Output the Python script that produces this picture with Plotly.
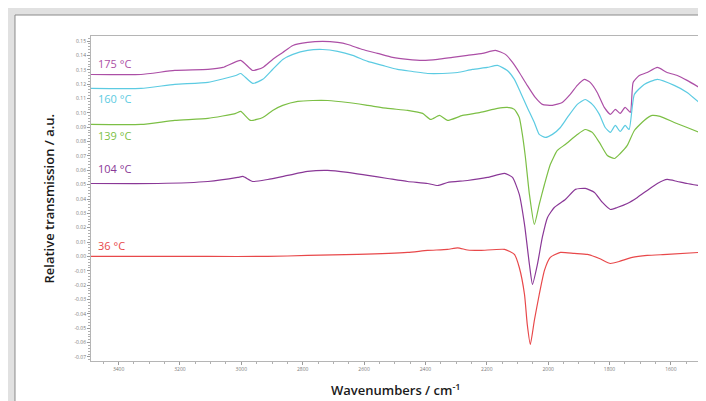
import plotly.graph_objects as go

# ---- data ----
wn_175 = [3490, 3327, 3217, 3109, 3060, 3002, 2963, 2930, 2898, 2865, 2832, 2784, 2735, 2686, 2653,
          2605, 2556, 2507, 2458, 2409, 2360, 2312, 2263, 2214, 2172, 2139, 2116, 2094, 2068, 2042,
          2019, 1986, 1954, 1928, 1905, 1882, 1863, 1840, 1817, 1797, 1781, 1765, 1749, 1732, 1723,
          1703, 1677, 1644, 1612, 1579, 1547, 1508]
t_175 = [0.1267, 0.1267, 0.1295, 0.1302, 0.1316, 0.1365, 0.1295, 0.1316, 0.1372, 0.1420, 0.1469,
         0.1490, 0.1497, 0.1490, 0.1476, 0.1441, 0.1414, 0.1386, 0.1372, 0.1365, 0.1372, 0.1386,
         0.1400, 0.1414, 0.1435, 0.1407, 0.1351, 0.1281, 0.1191, 0.1107, 0.1059, 0.1052, 0.1072,
         0.1128, 0.1191, 0.1233, 0.1212, 0.1142, 0.1038, 0.0989, 0.1024, 0.0996, 0.1038, 0.1003,
         0.1212, 0.1260, 0.1281, 0.1316, 0.1281, 0.1260, 0.1226, 0.1177]

wn_160 = [3490, 3327, 3217, 3109, 3018, 3002, 2963, 2930, 2898, 2865, 2832, 2784, 2735, 2686, 2637,
          2588, 2540, 2491, 2442, 2393, 2344, 2295, 2247, 2198, 2165, 2133, 2110, 2090, 2068, 2045,
          2029, 2009, 1986, 1960, 1937, 1905, 1879, 1856, 1833, 1814, 1797, 1781, 1765, 1749, 1736,
          1719, 1687, 1644, 1589, 1547, 1508]
t_160 = [0.1170, 0.1170, 0.1198, 0.1212, 0.1260, 0.1274, 0.1205, 0.1233, 0.1302, 0.1372, 0.1407,
         0.1435, 0.1441, 0.1428, 0.1400, 0.1358, 0.1330, 0.1302, 0.1288, 0.1274, 0.1274, 0.1281,
         0.1302, 0.1316, 0.1330, 0.1295, 0.1233, 0.1142, 0.1038, 0.0933, 0.0850, 0.0829, 0.0850,
         0.0898, 0.0968, 0.1059, 0.1093, 0.1059, 0.0989, 0.0898, 0.0864, 0.0912, 0.0870, 0.0912,
         0.0884, 0.1128, 0.1198, 0.1233, 0.1191, 0.1142, 0.1072]

wn_139 = [3490, 3327, 3217, 3109, 3018, 3002, 2970, 2930, 2898, 2865, 2816, 2767, 2719, 2653, 2588,
          2523, 2458, 2409, 2383, 2354, 2328, 2279, 2221, 2165, 2133, 2110, 2094, 2084, 2074, 2061,
          2045, 2029, 2012, 1993, 1970, 1944, 1905, 1879, 1856, 1833, 1807, 1784, 1765, 1742, 1719,
          1687, 1661, 1635, 1589, 1547, 1508]
t_139 = [0.0919, 0.0919, 0.0947, 0.0961, 0.0996, 0.1010, 0.0947, 0.0968, 0.1017, 0.1052, 0.1080,
         0.1086, 0.1086, 0.1072, 0.1052, 0.1031, 0.1017, 0.0996, 0.0954, 0.0982, 0.0947, 0.0982,
         0.1003, 0.1031, 0.1038, 0.1024, 0.0968, 0.0850, 0.0689, 0.0432, 0.0223, 0.0362, 0.0501,
         0.0640, 0.0738, 0.0780, 0.0849, 0.0884, 0.0864, 0.0794, 0.0703, 0.0682, 0.0717, 0.0773,
         0.0877, 0.0947, 0.0982, 0.0975, 0.0933, 0.0898, 0.0864]

wn_104 = [3490, 3272, 3109, 3012, 2995, 2963, 2914, 2849, 2784, 2719, 2653, 2588, 2523, 2458, 2393,
          2360, 2328, 2263, 2198, 2142, 2116, 2094, 2077, 2061, 2051, 2035, 2019, 2002, 1980, 1944,
          1911, 1879, 1849, 1823, 1797, 1775, 1742, 1709, 1677, 1644, 1612, 1579, 1547, 1508]
t_104 = [0.0508, 0.0508, 0.0522, 0.0550, 0.0557, 0.0522, 0.0536, 0.0564, 0.0592, 0.0599, 0.0585,
         0.0564, 0.0543, 0.0522, 0.0508, 0.0494, 0.0515, 0.0529, 0.0550, 0.0578, 0.0550, 0.0432,
         0.0223, -0.0056, -0.0195, -0.0056, 0.0132, 0.0272, 0.0341, 0.0397, 0.0467, 0.0474, 0.0446,
         0.0376, 0.0327, 0.0341, 0.0369, 0.0411, 0.0460, 0.0508, 0.0536, 0.0522, 0.0508, 0.0494]

wn_36 = [3490, 3109, 2914, 2784, 2621, 2458, 2393, 2328, 2295, 2263, 2221, 2142, 2110, 2094, 2077,
         2068, 2058, 2045, 2029, 2012, 1993, 1960, 1915, 1872, 1833, 1797, 1768, 1726, 1677, 1612, 1508]
t_36 = [0.0000, 0.0000, 0.0000, 0.0007, 0.0014, 0.0028, 0.0042, 0.0049, 0.0060, 0.0045, 0.0042,
        0.0049, 0.0014, -0.0077, -0.0265, -0.0474, -0.0613, -0.0446, -0.0265, -0.0097, -0.0007,
        0.0028, 0.0021, 0.0014, -0.0014, -0.0049, -0.0035, -0.0007, 0.0007, 0.0014, 0.0028]

series_names = ["175 °C", "160 °C", "139 °C", "104 °C", "36 °C"]
label_y = [0.1344, 0.1100, 0.0843, 0.0613, 0.0077]

y_tick_vals = [0.15, 0.14, 0.13, 0.12, 0.11, 0.10, 0.09, 0.08, 0.07, 0.06, 0.05, 0.04, 0.03, 0.02,
               0.01, 0.00, -0.01, -0.02, -0.03, -0.04, -0.05, -0.06, -0.07]
y_tick_text = ["0.15", "0.14", "0.13", "0.12", "0.11", "0.10", "0.09", "0.08", "0.07", "0.06", "0.05",
               "0.04", "0.03", "0.02", "0.01", "0.00", "-0.01", "-0.02", "-0.03", "-0.04", "-0.05",
               "-0.06", "-0.07"]
x_tick_vals = [3400, 3200, 3000, 2800, 2600, 2400, 2200, 2000, 1800, 1600]
x_tick_text = ["3400", "3200", "3000", "2800", "2600", "2400", "2200", "2000", "1800", "1600"]

colors = ["#ac4fa6", "#5ccbe2", "#7cbf45", "#8a3897", "#e8484a"]

xs = [wn_175, wn_160, wn_139, wn_104, wn_36]
ys = [t_175, t_160, t_139, t_104, t_36]

fig = go.Figure()
for name, x, y, c in zip(series_names, xs, ys, colors):
    fig.add_trace(go.Scatter(x=x, y=y, mode="lines", name=name,
                             line=dict(color=c, width=1.2, shape="spline", smoothing=0.5),
                             showlegend=False, hoverinfo="skip"))

for name, ly, c in zip(series_names, label_y, colors):
    fig.add_annotation(x=3474, y=ly, xref="x", yref="y", text=name, showarrow=False,
                       xanchor="left", yanchor="middle",
                       font=dict(family="Open Sans", size=11, color=c))

# white framed panel behind the chart
fig.add_shape(type="rect", xref="paper", yref="paper", x0=-0.1248, x1=1.0115, y0=-0.1323, y1=1.0646,
              fillcolor="white", line=dict(color="#8a8a8a", width=1), layer="below")

fig.add_annotation(xref="paper", yref="paper", x=-0.0706, y=0.50, text="Relative transmission / a.u.",
                   textangle=-90, showarrow=False, xanchor="center", yanchor="middle",
                   font=dict(family="Open Sans", size=13, color="#1a1a1a", weight=600))
fig.add_annotation(xref="paper", yref="paper", x=0.50, y=-0.0892, text="Wavenumbers / cm<sup>-1</sup>",
                   showarrow=False, xanchor="center", yanchor="middle",
                   font=dict(family="Open Sans", size=13, color="#1a1a1a", weight=600))

axis_common = dict(showgrid=False, zeroline=False, showline=True, linecolor="#b5b5b5", linewidth=1,
                   mirror=True, ticks="outside", ticklen=3, tickcolor="#9a9a9a",
                   tickfont=dict(family="Open Sans", size=5, color="#7a7a7a"))

fig.update_xaxes(range=[3490, 1505], tickmode="array", tickvals=x_tick_vals, ticktext=x_tick_text,
                 minor=dict(dtick=50, ticklen=2, tickcolor="#b0b0b0", ticks="outside"), **axis_common)
fig.update_yaxes(range=[-0.0728, 0.1535], tickmode="array", tickvals=y_tick_vals, ticktext=y_tick_text,
                 minor=dict(dtick=0.002, ticklen=2, tickcolor="#b0b0b0", ticks="outside"), **axis_common)

fig.update_layout(width=706, height=401, margin=dict(l=83, r=14, t=28, b=48),
                  paper_bgcolor="#e1e1e1", plot_bgcolor="white")

fig.write_html("out.html")
